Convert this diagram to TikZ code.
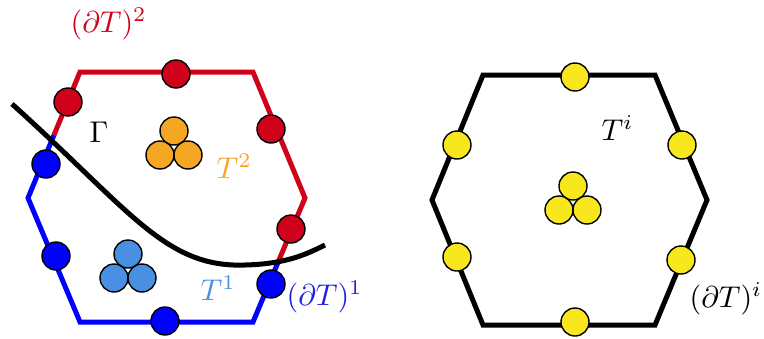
\documentclass[tikz,border=0pt]{standalone}
\usetikzlibrary{calc}
\definecolor{cred}{RGB}{208,2,27}
\definecolor{cblue}{RGB}{0,0,255}
\definecolor{ctxtblue}{RGB}{30,30,235}
\definecolor{corange}{RGB}{245,166,35}
\definecolor{clblue}{RGB}{74,144,226}
\definecolor{cyellow}{RGB}{248,231,28}
\tikzset{
  dot/.style={circle,draw=black,line width=1.4pt,minimum size=28pt,inner sep=0pt},
  edge/.style={line width=5pt,line join=miter,line cap=butt},
  lbl/.style={inner sep=0pt,anchor=base west,scale=3},
}
\begin{document}
\begin{tikzpicture}[x=1pt,y=-1pt]
\useasboundingbox (0,0) rectangle (764,338);
% left hexagon corners
\coordinate (L1) at (80,72);
\coordinate (L2) at (253,72);
\coordinate (L3) at (305,198);
\coordinate (L4) at (253,322);
\coordinate (L5) at (80,322);
\coordinate (L6) at (28,198);
\coordinate (Ma) at ($ (L6)!0.5!(L1) $);
\coordinate (Mb) at ($ (L3)!0.5!(L4) $);
\draw[edge,cred] (Ma) -- (L1) -- (L2) -- (L3) -- (Mb);
\draw[edge,cblue] (Mb) -- (L4) -- (L5) -- (L6) -- (Ma);
% curve Gamma
\coordinate (G0) at (12,104);
\coordinate (G1) at (245,265);
\coordinate (G2) at (325,245);
\draw[line width=5pt,black] (G0) .. controls (130,210) and (165,268) .. (G1)
  .. controls (285,264) and (305,255) .. (G2);
% red dots
\node[dot,fill=cred] (r1) at (68,102) {};
\node[dot,fill=cred] (r2) at (176,74) {};
\node[dot,fill=cred] (r3) at (271,129) {};
\node[dot,fill=cred] (r4) at (291,229) {};
% blue dots
\node[dot,fill=cblue] (b1) at (46,164) {};
\node[dot,fill=cblue] (b2) at (56,256) {};
\node[dot,fill=cblue] (b3) at (165,321) {};
\node[dot,fill=cblue] (b4) at (271,284) {};
% orange trio
\node[dot,fill=corange] (o1) at (174,131) {};
\node[dot,fill=corange] (o2) at (160,155) {};
\node[dot,fill=corange] (o3) at (188,155) {};
% light blue trio
\node[dot,fill=clblue] (c1) at (128,254) {};
\node[dot,fill=clblue] (c2) at (114,278) {};
\node[dot,fill=clblue] (c3) at (142,278) {};
% labels left
\node[lbl,text=cred] (lab2) at (70,32) {$(\partial T)^2$};
\node[lbl,text=black] (labG) at (89,142) {$\Gamma$};
\node[lbl,text=corange] (labT2) at (216,178) {$T^2$};
\node[lbl,text=clblue] (labT1) at (200,300) {$T^1$};
\node[lbl,text=ctxtblue] (lab1) at (286,305) {$(\partial T)^1$};
% right hexagon
\coordinate (R1) at (483,75);
\coordinate (R2) at (655,75);
\coordinate (R3) at (707,200);
\coordinate (R4) at (655,325);
\coordinate (R5) at (483,325);
\coordinate (R6) at (432,200);
\draw[edge,black] (R1) -- (R2) -- (R3) -- (R4) -- (R5) -- (R6) -- cycle;
\node[dot,fill=cyellow] (y1) at (575,77) {};
\node[dot,fill=cyellow] (y2) at (457,145) {};
\node[dot,fill=cyellow] (y3) at (682,145) {};
\node[dot,fill=cyellow] (y4) at (457,257) {};
\node[dot,fill=cyellow] (y5) at (681,260) {};
\node[dot,fill=cyellow] (y6) at (575,322) {};
\node[dot,fill=cyellow] (t1) at (573,186) {};
\node[dot,fill=cyellow] (t2) at (559,210) {};
\node[dot,fill=cyellow] (t3) at (587,210) {};
\node[lbl,text=black] (labTi) at (601,140) {$T^i$};
\node[lbl,text=black] (labi) at (689,307) {$(\partial T)^i$};
\end{tikzpicture}
\end{document}
